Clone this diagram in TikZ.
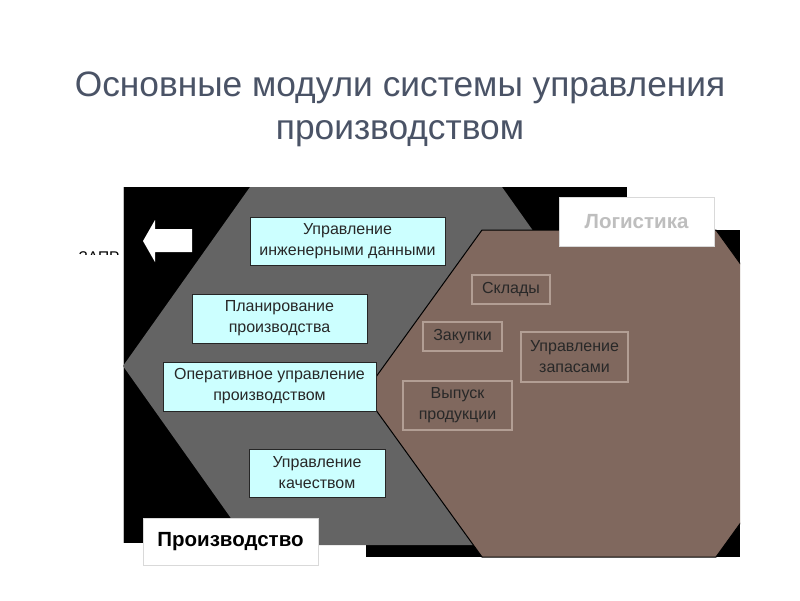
\documentclass[tikz,border=0pt]{standalone}
\usepackage{fontspec}
\setmainfont{Liberation Sans}
\definecolor{titlecol}{RGB}{74,83,102}
\definecolor{hexgray}{RGB}{100,100,100}
\definecolor{hexbrown}{RGB}{128,104,94}
\definecolor{cyanbox}{RGB}{204,255,255}
\definecolor{tanline}{RGB}{178,158,148}
\definecolor{logi}{RGB}{190,190,190}
\definecolor{boxtext}{RGB}{40,40,40}
\begin{document}
\begin{tikzpicture}[x=1pt,y=-1pt,
  title/.style={anchor=base,text=titlecol,font=\fontsize{35.3}{43}\selectfont},
  cbox/.style={draw=black!85,line width=0.8pt,fill=cyanbox,inner sep=0pt,align=center,
    text=boxtext,font=\fontsize{16}{21}\selectfont},
  bbox/.style={draw=tanline,line width=1.4pt,inner sep=0pt,align=center,
    text=boxtext,font=\fontsize{16}{21}\selectfont},
  wbox/.style={draw=black!15,line width=0.8pt,fill=white,inner sep=0pt,align=center,
    font=\bfseries\fontsize{20.5}{24}\selectfont}]
\useasboundingbox[fill=white] (0,0) rectangle (800,600);
% title
\node[title] (t1) at (400,96) {Основные модули системы управления};
\node[title] (t2) at (400,139) {производством};
% partially hidden text
\begin{scope}
  \clip (60,240) rectangle (123,254.5);
  \node[anchor=base west,font=\fontsize{15.5}{18}\selectfont,text=black] (zapr) at (75,262) {ЗАПР};
\end{scope}
% black backgrounds
\fill[black] (123,187) rectangle (627,543);
\fill[black] (366,230) rectangle (740,557);
\draw[black!25,line width=0.8pt] (123,187) -- (123,543);
% gray hexagon
\fill[hexgray] (250,187) -- (502,187) -- (629,366) -- (502,545) -- (250,545) -- (123,366) -- cycle;
% brown hexagon clipped
\begin{scope}
  \clip (300,220) rectangle (740,560);
  \filldraw[fill=hexbrown,draw=black,line width=1pt] (482,230) -- (716,230) -- (834,393.5) -- (716,557) -- (482,557) -- (364,393.5) -- cycle;
\end{scope}
% arrow
\fill[white] (143,241) -- (155,220) -- (155,229) -- (192,229) -- (192,252) -- (155,252) -- (155,262) -- cycle;
% production boxes
\node[cbox,minimum width=195pt,minimum height=48pt] (eng) at (347.5,241) {Управление\\инженерными данными};
\node[cbox,minimum width=175pt,minimum height=49pt] (plan) at (279.5,318.5) {Планирование\\производства};
\node[cbox,minimum width=213pt,minimum height=49pt] (oper) at (269.5,386.5) {Оперативное управление\\производством};
\node[cbox,minimum width=136pt,minimum height=48pt] (qual) at (317,473) {Управление\\качеством};
% logistics boxes
\node[bbox,minimum width=78pt,minimum height=29pt] (skl) at (511,289.5) {Склады};
\node[bbox,minimum width=79pt,minimum height=29pt] (zak) at (462.5,336.5) {Закупки};
\node[bbox,minimum width=107pt,minimum height=50pt] (zap) at (574.5,357) {Управление\\запасами};
\node[bbox,minimum width=109pt,minimum height=49pt] (vyp) at (457.5,405.5) {Выпуск\\продукции};
% labels
\node[wbox,minimum width=155pt,minimum height=49pt,text=logi] (log) at (636.5,221.5) {Логистика};
\node[wbox,minimum width=175pt,minimum height=47pt,text=black] (pro) at (230.5,541.5) {Производство};
\end{tikzpicture}
\end{document}
